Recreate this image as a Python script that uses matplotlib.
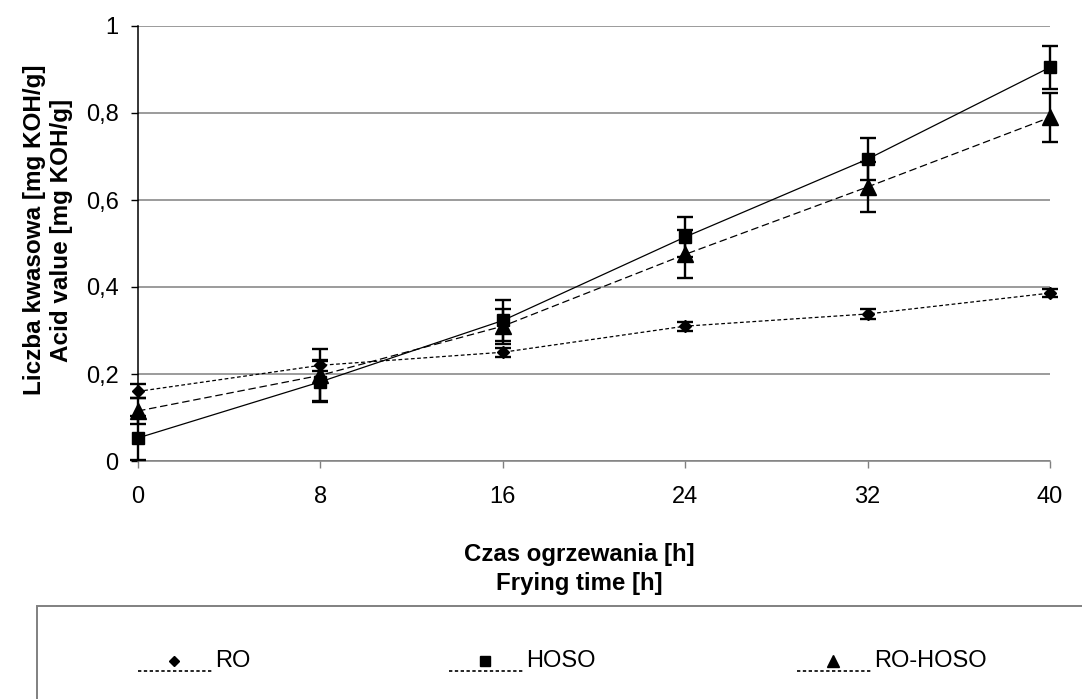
import matplotlib
matplotlib.use("Agg")
import matplotlib.pyplot as plt
from matplotlib.lines import Line2D
from matplotlib.patches import Rectangle
from matplotlib.ticker import FuncFormatter

plt.rcParams['font.family'] = ['Liberation Sans', 'DejaVu Sans']

# frying time [h]
hours = [0, 8, 16, 24, 32, 40]

# acid value [mg KOH/g] with error bars
ro = [0.160, 0.220, 0.250, 0.310, 0.338, 0.386]
ro_err = [0.016, 0.012, 0.010, 0.010, 0.012, 0.010]
hoso = [0.053, 0.182, 0.323, 0.515, 0.694, 0.905]
hoso_err = [0.050, 0.047, 0.048, 0.045, 0.048, 0.050]
mix = [0.115, 0.197, 0.310, 0.475, 0.630, 0.790]
mix_err = [0.030, 0.060, 0.040, 0.055, 0.058, 0.057]

names = ["RO", "HOSO", "RO-HOSO"]
x_ticks = [0, 8, 16, 24, 32, 40]
y_ticks = [0, 0.2, 0.4, 0.6, 0.8, 1.0]

W, H = 1082, 699
fig = plt.figure(figsize=(W / 100, H / 100), dpi=100)
ax = fig.add_axes([138 / W, 1 - 461 / H, (1050 - 138) / W, (461 - 26) / H])

series = [
    (ro, ro_err, 'D', 6.3, (0, (3, 2))),
    (hoso, hoso_err, 's', 9.0, '-'),
    (mix, mix_err, '^', 11.0, (0, (6, 3))),
]
for vals, err, mk, ms, ls in series:
    ax.plot(hours, vals, color='black', lw=0.9, ls=ls, zorder=3)
    ax.errorbar(hours, vals, yerr=err, fmt=mk, ms=ms, color='black',
                ecolor='black', elinewidth=1.7, capsize=5.5, capthick=1.7,
                zorder=4, clip_on=False)

ax.set_xlim(0, 40)
ax.set_ylim(0, 1)
ax.set_xticks(x_ticks)
ax.set_yticks(y_ticks)
ax.yaxis.set_major_formatter(FuncFormatter(lambda v, p: f"{v:g}".replace('.', ',')))
ax.grid(axis='y', color='#808080', lw=1.1)
ax.set_axisbelow(True)
for s in ['top', 'right']:
    ax.spines[s].set_visible(False)
ax.spines['bottom'].set_color('#808080')
ax.spines['bottom'].set_linewidth(1.1)
ax.spines['left'].set_color('black')
ax.spines['left'].set_linewidth(1.1)
ax.tick_params(axis='x', length=5, width=1, color='#808080', pad=13, labelsize=17)
ax.tick_params(axis='y', length=5, width=1, color='black', pad=9, labelsize=17)

fig.text(579 / W, 1 - 569 / H, "Czas ogrzewania [h]\nFrying time [h]",
         ha='center', va='center', fontsize=17.3, fontweight='bold', linespacing=1.3)
fig.text(48 / W, 1 - 230 / H, "Liczba kwasowa [mg KOH/g]\nAcid value [mg KOH/g]",
         ha='center', va='center', rotation=90, fontsize=17.5, fontweight='bold',
         linespacing=1.25)

# legend box at the bottom
fig.patches.append(Rectangle((37 / W, -0.1), 1.2, (0.1 + 1 - 606 / H),
                             transform=fig.transFigure, fill=False,
                             edgecolor='#808080', lw=1.4, clip_on=False))
leg_x = [174, 485, 833]
leg_mk = [('D', 6.3), ('s', 9.0), ('^', 11.0)]
for cx, (mk, ms), name in zip(leg_x, leg_mk, names):
    fig.lines.append(Line2D([(cx - 36) / W, (cx + 38) / W], [1 - 671 / H] * 2,
                            transform=fig.transFigure, color='black', lw=1.2,
                            ls=(0, (2, 1.5))))
    fig.lines.append(Line2D([cx / W], [1 - 661 / H], transform=fig.transFigure,
                            marker=mk, ms=ms * 0.85, color='black', ls='none'))
    fig.text((cx + 41) / W, 1 - 661 / H, name, ha='left', va='center', fontsize=17)

fig.savefig("out.png", dpi=100)
